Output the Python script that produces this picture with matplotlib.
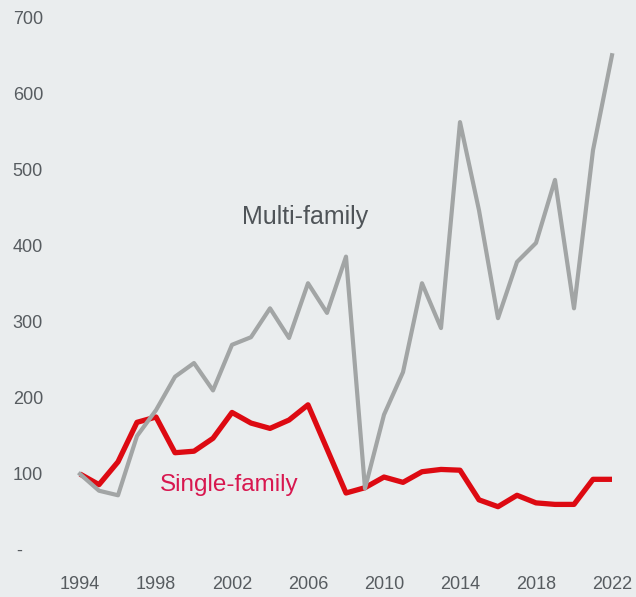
import matplotlib.pyplot as plt

years = list(range(1994, 2023))
multi_family = [100, 78, 72, 150, 184, 228, 246, 210, 270, 280, 318, 279, 351,
                312, 386, 81, 178, 234, 351, 292, 563, 447, 305, 379, 404, 487,
                318, 526, 651]
single_family = [100, 86, 116, 168, 175, 128, 130, 147, 181, 167, 160, 171, 191,
                 133, 75, 82, 96, 89, 103, 106, 105, 66, 57, 72, 62, 60, 60, 93, 93]

xticks = list(range(1994, 2023, 4))
yticks = [0, 100, 200, 300, 400, 500, 600, 700]
ytick_labels = ['-    ', '100', '200', '300', '400', '500', '600', '700']

plt.rcParams['font.family'] = ['Liberation Sans', 'DejaVu Sans']

bg = '#eaedee'
fig = plt.figure(figsize=(6.36, 5.97), dpi=100, facecolor=bg)
# axes placed so 1994 -> x=80px, 2022 -> x=612px, 0 -> y=550px, 700 -> y=18px
x0_px, x1_px = 50, 631
xl0 = 1994 + (x0_px - 80) / 19.0
xl1 = 1994 + (x1_px - 80) / 19.0
yb_px, yt_px = 572, 2
yl0 = (550 - yb_px) / 0.76
yl1 = (550 - yt_px) / 0.76
ax = fig.add_axes([x0_px / 636, (597 - yb_px) / 597,
                   (x1_px - x0_px) / 636, (yb_px - yt_px) / 597])
ax.set_facecolor(bg)

ax.plot(years, single_family, color='#dd0a12', lw=3.8, solid_joinstyle='round',
        solid_capstyle='butt', zorder=2)
ax.plot(years, multi_family, color='#a2a5a5', lw=3.0, solid_joinstyle='round',
        zorder=3)

ax.set_xlim(xl0, xl1)
ax.set_ylim(yl0, yl1)
ax.set_xticks(xticks)
ax.set_yticks(yticks)
ax.set_yticklabels(ytick_labels)
ax.tick_params(length=0, labelsize=13, colors='#575c60')
ax.tick_params(axis='y', pad=5)
ax.tick_params(axis='x', pad=3)
for s in ax.spines.values():
    s.set_visible(False)

ax.text(2002.5, 438, 'Multi-family', color='#4f5458', fontsize=18,
        ha='left', va='center')
ax.text(1998.2, 86, 'Single-family', color='#d8174f', fontsize=17.5,
        ha='left', va='center')

fig.savefig('out.png', dpi=100, facecolor=bg)
